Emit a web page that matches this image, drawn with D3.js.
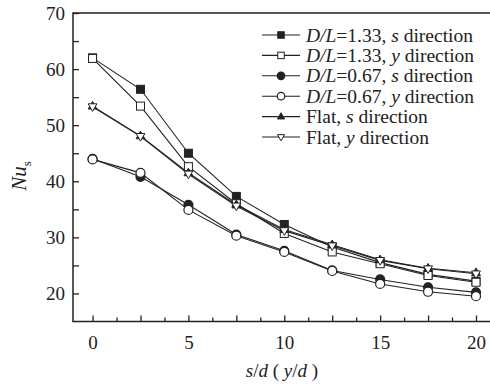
<!DOCTYPE html>
<html>
<meta charset="utf-8">
<script src="https://d3js.org/d3.v7.min.js"></script>
<style>
  body { margin: 0; background: #fff; }
  text { font-family: "Liberation Serif", "Times New Roman", serif; fill: #222; }
</style>
<body>
<div id="chart"></div>
<script>

// data
var xs = [0, 2.5, 5, 7.5, 10, 12.5, 15, 17.5, 20];
var dl133s = [62.0, 56.4, 45.0, 37.3, 32.3, 28.3, 25.5, 23.4, 22.2];
var dl133y = [61.9, 53.4, 42.6, 36.0, 30.7, 27.4, 25.3, 23.2, 22.0];
var dl067s = [44.0, 40.8, 35.8, 30.5, 27.6, 24.1, 22.5, 21.1, 20.2];
var dl067y = [43.9, 41.5, 34.9, 30.3, 27.4, 24.0, 21.7, 20.3, 19.5];
var flats  = [53.4, 48.1, 41.5, 35.8, 31.4, 28.7, 26.0, 24.5, 23.7];
var flaty  = [53.3, 48.0, 41.3, 35.6, 31.2, 28.5, 25.9, 24.4, 23.5];

var seriesNames = [
  [["D/L", true], ["=1.33, ", false], ["s", true], [" direction", false]],
  [["D/L", true], ["=1.33, ", false], ["y", true], [" direction", false]],
  [["D/L", true], ["=0.67, ", false], ["s", true], [" direction", false]],
  [["D/L", true], ["=0.67, ", false], ["y", true], [" direction", false]],
  [["Flat, ", false], ["s", true], [" direction", false]],
  [["Flat, ", false], ["y", true], [" direction", false]]
];
var seriesVals = [dl133s, dl133y, dl067s, dl067y, flats, flaty];
var markers = ["squareFill", "squareOpen", "circleFill", "circleOpen", "triUpFill", "triDownOpen"];

var xMajor = [0, 2.5, 5, 7.5, 10, 12.5, 15, 17.5, 20];
var xMinor = [1.25, 3.75, 6.25, 8.75, 11.25, 13.75, 16.25, 18.75];
var yTicks = [20, 25, 30, 35, 40, 45, 50, 55, 60, 65, 70];

var W = 490, H = 386;
var pL = 73, pT = 13, pB = 321.5, pR = 490;

var svg = d3.select("#chart").append("svg")
    .attr("width", W).attr("height", H);

var x = d3.scaleLinear().domain([-1.02, 20.73]).range([pL, pR]);
var y = d3.scaleLinear().domain([15, 70]).range([pB, pT]);

var ink = "#222";

// X axis (ticks inward)
svg.append("g")
    .attr("transform", "translate(0," + pB + ")")
    .call(d3.axisBottom(x).tickValues(xMajor).tickSize(-6).tickPadding(14)
        .tickFormat(function(d) { return d % 5 === 0 ? d : ""; }));
svg.append("g")
    .attr("transform", "translate(0," + pB + ")")
    .call(d3.axisBottom(x).tickValues(xMinor).tickSize(-4).tickFormat(""));

// Y axis
svg.append("g")
    .attr("transform", "translate(" + pL + ",0)")
    .call(d3.axisLeft(y).tickValues(yTicks).tickSize(-6).tickPadding(8)
        .tickFormat(function(d) { return d % 10 === 0 ? d : ""; }));

svg.selectAll(".domain").remove();
svg.selectAll(".tick line").attr("stroke", ink).attr("stroke-width", 1.3);
svg.selectAll(".tick text")
    .style("font-family", "'Liberation Serif', 'Times New Roman', serif")
    .style("font-size", "19px").attr("fill", ink);

// frame: left, top, bottom
svg.append("path")
    .attr("d", "M" + pR + "," + pT + "H" + pL + "V" + pB + "H" + pR)
    .attr("fill", "none").attr("stroke", ink).attr("stroke-width", 1.5);

// marker drawing
function drawMarker(g, type, cx, cy, s) {
  if (type.indexOf("square") === 0) {
    g.append("rect").attr("x", cx - s / 2).attr("y", cy - s / 2)
      .attr("width", s).attr("height", s)
      .attr("fill", type === "squareFill" ? ink : "#fff")
      .attr("stroke", ink).attr("stroke-width", 1);
  } else if (type.indexOf("circle") === 0) {
    g.append("circle").attr("cx", cx).attr("cy", cy).attr("r", s / 2 + 0.5)
      .attr("fill", type === "circleFill" ? ink : "#fff")
      .attr("stroke", ink).attr("stroke-width", 1.2);
  } else {
    var h = s * 0.95, w = s * 1.1;
    var pts = type === "triUpFill"
      ? [[cx, cy - h * 0.62], [cx - w / 2, cy + h * 0.38], [cx + w / 2, cy + h * 0.38]]
      : [[cx, cy + h * 0.62], [cx - w / 2, cy - h * 0.38], [cx + w / 2, cy - h * 0.38]];
    g.append("polygon").attr("points", pts.map(function(p) { return p.join(","); }).join(" "))
      .attr("fill", type === "triUpFill" ? ink : "#fff")
      .attr("stroke", ink).attr("stroke-width", 1);
  }
}

var line = d3.line()
    .x(function(d, i) { return x(xs[i]); })
    .y(function(d) { return y(d); });

var plot = svg.append("g");
seriesVals.forEach(function(vals) {
  plot.append("path").datum(vals)
    .attr("d", line).attr("fill", "none")
    .attr("stroke", ink).attr("stroke-width", 1.1);
});
seriesVals.forEach(function(vals, k) {
  var g = plot.append("g");
  vals.forEach(function(v, i) {
    drawMarker(g, markers[k], x(xs[i]), y(v), 8);
  });
});

// legend
var lg = svg.append("g");
seriesNames.forEach(function(parts, k) {
  var cy = 35 + k * 20.4;
  lg.append("line").attr("x1", 262).attr("x2", 300).attr("y1", cy).attr("y2", cy)
    .attr("stroke", ink).attr("stroke-width", 1.1);
  drawMarker(lg, markers[k], 281, cy, 6.5);
  var t = lg.append("text").attr("x", 306).attr("y", cy + 6.5)
    .style("font-size", "19.5px");
  parts.forEach(function(p) {
    t.append("tspan").text(p[0]).style("font-style", p[1] ? "italic" : "normal");
  });
});

// x label
var xl = svg.append("text").attr("x", 282).attr("y", 377)
    .attr("text-anchor", "middle").style("font-size", "19px");
[["s", true], ["/", false], ["d", true], [" ( ", false], ["y", true], ["/", false], ["d", true], [" )", false]]
  .forEach(function(p) {
    xl.append("tspan").text(p[0]).style("font-style", p[1] ? "italic" : "normal");
  });

// y label
var yl = svg.append("text")
    .attr("transform", "translate(26,176) rotate(-90)")
    .attr("text-anchor", "middle").style("font-size", "21px");
yl.append("tspan").text("Nu").style("font-style", "italic");
yl.append("tspan").text("s").attr("dy", 5).style("font-size", "13px");

</script>
</body>
</html>
